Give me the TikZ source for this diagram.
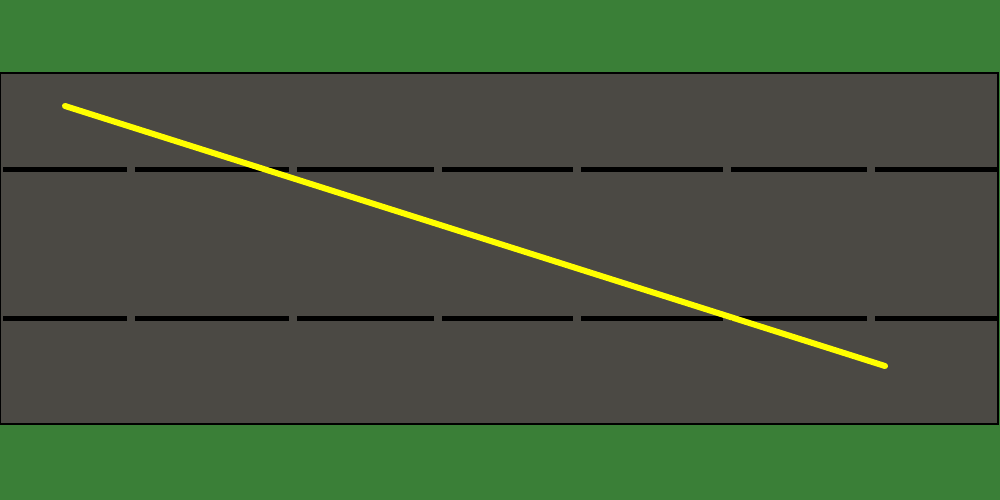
\documentclass[tikz,border=0pt]{standalone}
\definecolor{grass}{HTML}{3A7F37}
\definecolor{asphalt}{HTML}{4B4944}
\definecolor{lineyellow}{HTML}{FFFF00}
\tikzset{
  lanedash/.style={line width=5pt, black},
  centerline/.style={line width=6pt, lineyellow, line cap=round}
}
\begin{document}
\begin{tikzpicture}[x=1pt,y=-1pt]
\useasboundingbox (0,0) rectangle (1000,500);
\fill[grass] (0,0) rectangle (1000,500);
\fill[asphalt, draw=black, line width=2.5pt] (0,73) rectangle (998,424);
\foreach \y in {169,318}{
  \foreach \a/\b in {3/127,135/289,297/434,442/573,581/723,731/867,875/997}{
    \draw[lanedash] (\a,\y) -- (\b,\y);
  }
}
\coordinate (start) at (65,106);
\coordinate (end) at (885,366);
\draw[centerline] (start) -- (end);
\end{tikzpicture}
\end{document}
